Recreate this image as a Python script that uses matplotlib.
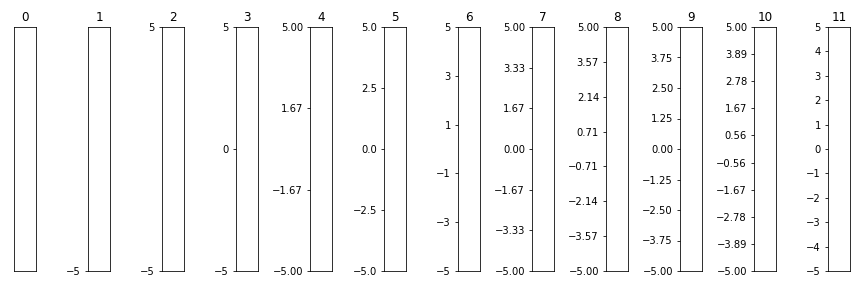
import matplotlib
matplotlib.use("Agg")
import matplotlib.pyplot as plt
from matplotlib.ticker import LinearLocator

numticks = list(range(12))
titles = [str(n) for n in numticks]
ylim = (-5, 5)

fig, axes = plt.subplots(1, 12, figsize=(12, 4), dpi=72)
fig.subplots_adjust(left=14/864, right=850/864, top=1-27/288, bottom=1-271/288, wspace=2.364)
for ax, n, t in zip(axes, numticks, titles):
    ax.set_ylim(*ylim)
    ax.yaxis.set_major_locator(LinearLocator(numticks=n))
    ax.set_xticks([])
    ax.set_title(t)
fig.savefig("out.png", dpi=72)
